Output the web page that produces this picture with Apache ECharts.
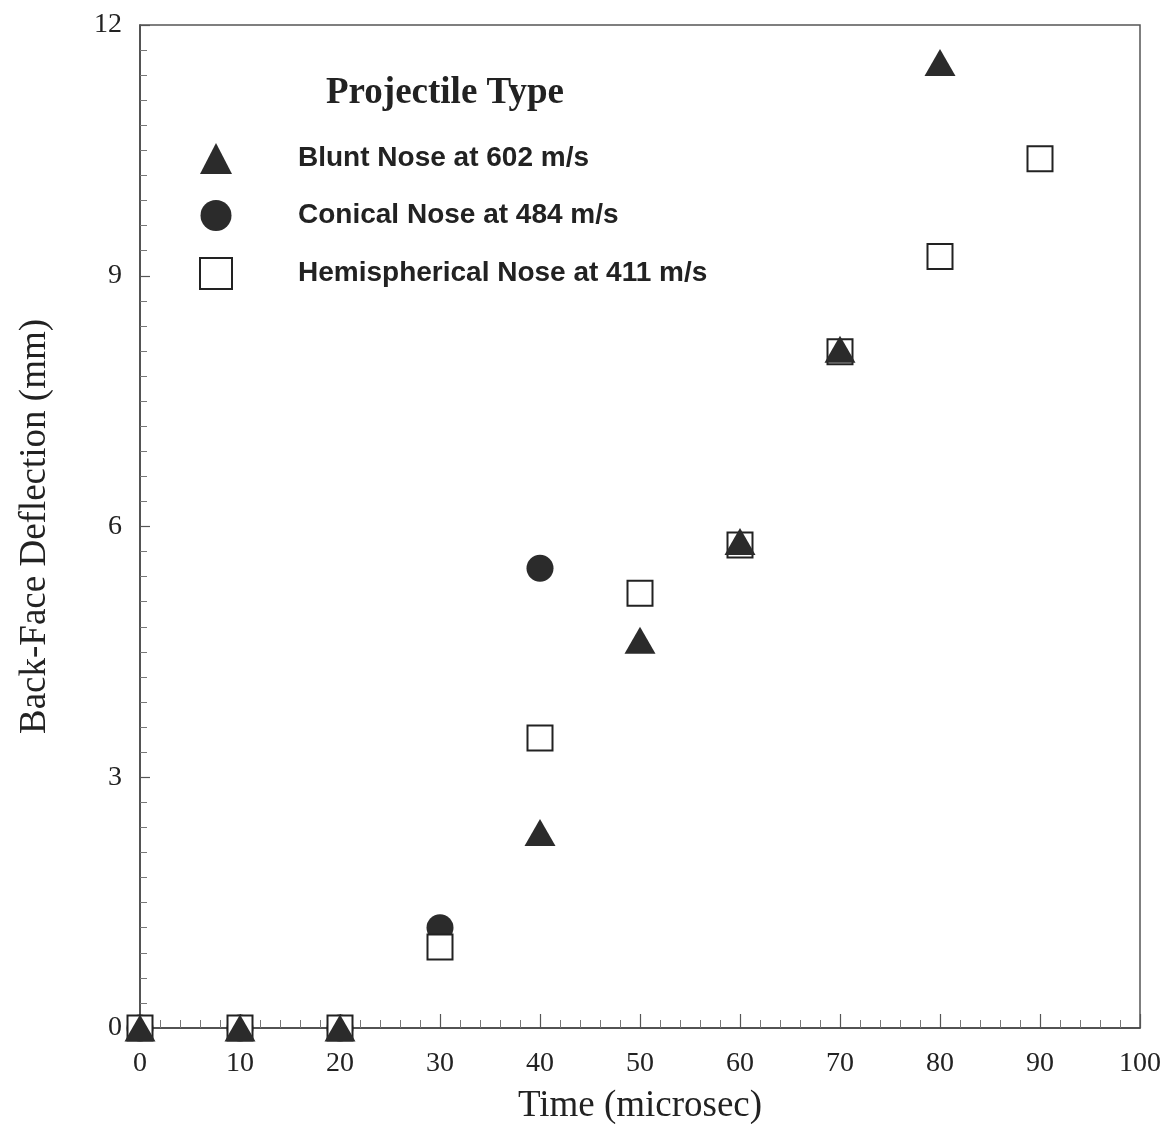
<!DOCTYPE html>
<html>
<head>
<meta charset="utf-8">
<script src="https://cdn.jsdelivr.net/npm/echarts@6/dist/echarts.min.js"></script>
<style>html,body{margin:0;padding:0;background:#fff;}#c{width:1168px;height:1124px;}</style>
</head>
<body>
<div id="c"></div>
<script>
const seriesNames = ['Blunt Nose at 602 m/s', 'Conical Nose at 484 m/s', 'Hemispherical Nose at 411 m/s'];
const bluntData = [[0, 0], [10, 0], [20, 0], [40, 2.34], [50, 4.64], [60, 5.82], [70, 8.12], [80, 11.55]];
const conicalData = [[0, 0], [10, 0], [20, 0], [30, 1.2], [40, 5.5]];
const hemiData = [[0, 0], [10, 0], [20, 0], [30, 0.97], [40, 3.47], [50, 5.2], [60, 5.78], [70, 8.09], [80, 9.23], [90, 10.4]];
const xTicks = [0, 10, 20, 30, 40, 50, 60, 70, 80, 90, 100];
const yTicks = [0, 3, 6, 9, 12];

const chart = echarts.init(document.getElementById('c'), null, {renderer: 'canvas'});
const dark = '#2b2b2b';
const axisLine = {show: true, lineStyle: {color: '#444', width: 1.5}};
chart.setOption({
  backgroundColor: '#fff',
  animation: false,
  title: {
    text: 'Projectile Type',
    left: 440, top: 70, textAlign: 'center',
    textStyle: {fontFamily: 'Liberation Serif', fontWeight: 'bold', fontSize: 37, color: '#222'}
  },
  legend: {
    orient: 'vertical',
    left: 194, top: 138,
    itemWidth: 32, itemHeight: 31, itemGap: 26,
    data: [
      {name: seriesNames[0], icon: 'triangle'},
      {name: seriesNames[1], icon: 'circle'},
      {name: seriesNames[2], icon: 'rect'}
    ],
    textStyle: {fontFamily: 'Liberation Sans', fontWeight: 'bold', fontSize: 28, color: '#222', padding: [0, 0, 0, 61]}
  },
  grid: {left: 140, right: 28, top: 25, bottom: 96, show: true, borderColor: '#555', borderWidth: 1.5,
    containLabel: false, outerBoundsMode: 'none'},
  xAxis: {
    type: 'value', min: 0, max: 100, interval: 10,
    name: 'Time (microsec)', nameLocation: 'middle', nameGap: 60,
    nameTextStyle: {fontFamily: 'Liberation Serif', fontSize: 37, color: '#222'},
    axisLine: axisLine,
    axisTick: {show: true, inside: true, length: 14, lineStyle: {color: '#555', width: 1.2}},
    minorTick: {show: true, splitNumber: 5, length: 8, lineStyle: {color: '#777', width: 1}},
    splitLine: {show: false},
    axisLabel: {fontFamily: 'Liberation Serif', fontSize: 28, color: '#222', margin: 22,
      formatter: v => xTicks.includes(v) ? String(v) : ''}
  },
  yAxis: {
    type: 'value', min: 0, max: 12, interval: 3,
    name: 'Back-Face Deflection (mm)', nameLocation: 'middle', nameGap: 86,
    nameTextStyle: {fontFamily: 'Liberation Serif', fontSize: 37, color: '#222'},
    axisLine: axisLine,
    axisTick: {show: true, inside: true, length: 10, lineStyle: {color: '#555', width: 1.2}},
    minorTick: {show: true, splitNumber: 10, length: 7, lineStyle: {color: '#777', width: 1}},
    splitLine: {show: false},
    axisLabel: {fontFamily: 'Liberation Serif', fontSize: 28, color: '#222', margin: 18,
      formatter: v => yTicks.includes(v) ? String(v) : ''}
  },
  series: [
    {
      name: seriesNames[0], type: 'scatter', data: bluntData, symbol: 'triangle', symbolSize: [31, 27],
      clip: false, z: 5, itemStyle: {color: dark, opacity: 1}
    },
    {
      name: seriesNames[1], type: 'scatter', data: conicalData, symbol: 'circle', symbolSize: 27,
      clip: false, z: 3, itemStyle: {color: dark, opacity: 1}
    },
    {
      name: seriesNames[2], type: 'scatter', data: hemiData, symbol: 'rect', symbolSize: 25,
      clip: false, z: 4, itemStyle: {color: '#fff', borderColor: '#222', borderWidth: 2, opacity: 1}
    }
  ]
});
</script>
</body>
</html>
